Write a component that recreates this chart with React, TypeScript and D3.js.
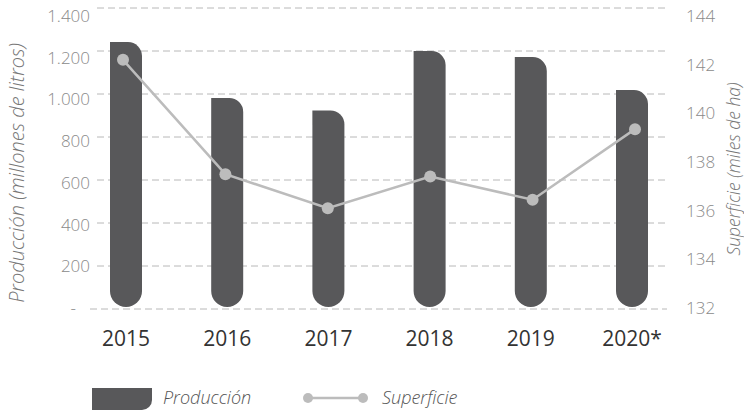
import React from "react";
import * as d3 from "d3";

const years = ["2015", "2016", "2017", "2018", "2019", "2020*"];
const produccion = [1275, 1007, 947, 1232, 1203, 1045];
const superficie = [142.2, 137.5, 136.1, 137.4, 136.45, 139.35];
const leftTicks = [0, 200, 400, 600, 800, 1000, 1200, 1400];
const rightTicks = [132, 134, 136, 138, 140, 142, 144];
const gridIdx = [0, 1, 2, 3, 4, 5, 6, 7];

const W = 744;
const H = 412;
const BAR = "#58585a";
const LINE = "#bcbcbc";
const GRID = "#b8b8b8";
const FONT = "'Open Sans', 'DejaVu Sans', sans-serif";

export default function App() {
  const yL = d3.scaleLinear().domain([0, 1400]).range([308, 16]);
  const yR = d3.scaleLinear().domain([132, 144]).range([308, 16]);
  const yG = d3.scaleLinear().domain([0, 7]).range([309, 8]);
  const xB = d3.scalePoint<string>().domain(years).range([126, 632]);
  const xL = d3.scalePoint<string>().domain(years).range([123, 635]);
  const fmt = (v: number) => (v === 0 ? "-" : d3.format(",")(v).replace(/,/g, "."));

  const bw = 32;
  const rt = 14;
  const barPath = (cx: number, v: number) => {
    const x0 = cx - bw / 2;
    const x1 = cx + bw / 2;
    const yt = yL(v);
    const yb = yL(0) - 1;
    const rb = bw / 2;
    return `M${x0},${yt}H${x1 - rt}A${rt},${rt} 0 0 1 ${x1},${yt + rt}V${yb - rb}A${rb},${rb} 0 0 1 ${x0},${yb - rb}Z`;
  };

  const line = d3
    .line<number>()
    .x((_, i) => xL(years[i]) as number)
    .y((d) => yR(d));

  return (
    <svg
      width={W}
      height={H}
      style={{ position: "absolute", left: 0, top: 0, background: "#fff" }}
      fontFamily={FONT}
    >
      {gridIdx.map((g) => (
        <line
          key={g}
          x1={g === 0 ? 90 : 97}
          x2={667}
          y1={yG(g)}
          y2={yG(g)}
          stroke={GRID}
          strokeWidth={1}
          strokeDasharray="7,4"
        />
      ))}
      {leftTicks.map((t) => (
        <text
          key={t}
          x={t === 0 ? 76 : 90}
          y={yL(t)}
          dy="0.35em"
          textAnchor="end"
          fontSize={17}
          fontWeight={300}
          fill="#8a8a8a"
        >
          {fmt(t)}
        </text>
      ))}
      {rightTicks.map((t) => (
        <text
          key={t}
          x={686}
          y={yR(t)}
          dy="0.35em"
          textAnchor="start"
          fontSize={17}
          fontWeight={300}
          fill="#8a8a8a"
        >
          {t}
        </text>
      ))}
      {produccion.map((v, i) => (
        <path key={years[i]} d={barPath(xB(years[i]) as number, v)} fill={BAR} />
      ))}
      <path d={line(superficie) || ""} fill="none" stroke={LINE} strokeWidth={2.5} />
      {superficie.map((v, i) => (
        <circle key={years[i]} cx={xL(years[i]) as number} cy={yR(v)} r={6} fill={LINE} />
      ))}
      {years.map((y) => (
        <text
          key={y}
          x={xB(y) as number}
          y={346}
          textAnchor="middle"
          fontSize={21}
          fill="#333"
        >
          {y}
        </text>
      ))}
      <text
        transform="translate(24,173) rotate(-90)"
        textAnchor="middle"
        fontSize={20}
        fontStyle="italic"
        fontWeight={300}
        fill="#777"
      >
        Producción (millones de litros)
      </text>
      <text
        transform="translate(740,169) rotate(-90)"
        textAnchor="middle"
        fontSize={17.5}
        fontStyle="italic"
        fontWeight={300}
        fill="#777"
      >
        Superficie (miles de ha)
      </text>
      <path d="M92,388H152V400A10,10 0 0 1 142,410H92Z" fill={BAR} />
      <text x={163} y={404} fontSize={18} fontStyle="italic" fontWeight={300} fill="#555">
        Producción
      </text>
      <line x1={308} x2={363} y1={398} y2={398} stroke={LINE} strokeWidth={2.5} />
      <circle cx={308} cy={398} r={5} fill={LINE} />
      <circle cx={363} cy={398} r={5} fill={LINE} />
      <text x={382} y={404} fontSize={18} fontStyle="italic" fontWeight={300} fill="#555">
        Superficie
      </text>
    </svg>
  );
}
